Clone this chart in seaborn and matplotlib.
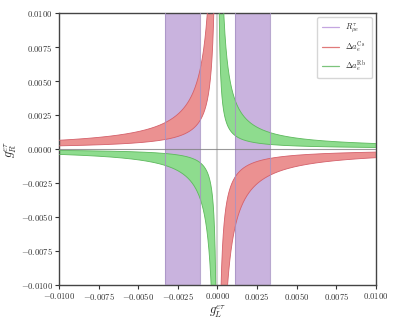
import numpy as np
import pandas as pd
import seaborn as sns
import matplotlib
matplotlib.use("Agg")
import matplotlib.pyplot as plt
from matplotlib.lines import Line2D
from matplotlib.ticker import FuncFormatter

# band limits
# R^tau_mu_e : allowed |g_L| window
r_mue_window = [0.00113, 0.00331]
# Delta a_e bands : g_L * g_R between these values
cs_products = [-6.4e-6, -2.3e-6]
rb_products = [1.1e-6, 4.0e-6]

ticks = [-0.01, -0.0075, -0.005, -0.0025, 0.0, 0.0025, 0.005, 0.0075, 0.01]
labels = [r'$R_{\mu e}^{\tau}$', r'$\Delta a_e^{\rm Cs}$', r'$\Delta a_e^{\rm Rb}$']
fill_colors = ['#c9b3de', '#eb9191', '#8edc8e']
edge_colors = ['#a792c4', '#d4606a', '#5cb85c']

sns.set_theme(style='ticks')
plt.rcParams['font.family'] = ['serif']
plt.rcParams['mathtext.fontset'] = 'cm'

fig, ax = plt.subplots(figsize=(3.99, 3.19), dpi=100)
fig.subplots_adjust(left=0.148, right=0.942, top=0.959, bottom=0.107)

# R^tau_mu_e windows
for sgn in (-1, 1):
    lo, hi = sorted([sgn * r_mue_window[0], sgn * r_mue_window[1]])
    ax.axvspan(lo, hi, facecolor=fill_colors[0], edgecolor='none', zorder=1)
    for x in (lo, hi):
        ax.axvline(x, color=edge_colors[0], lw=0.8, alpha=0.8, zorder=4)

# Delta a_e bands (g_R = c / g_L)
gl_pos = np.geomspace(1e-6, 0.0101, 3000)
for prods, fc, ec in [(cs_products, fill_colors[1], edge_colors[1]),
                      (rb_products, fill_colors[2], edge_colors[2])]:
    for sgn in (-1, 1):
        gl = sgn * gl_pos
        lo = prods[0] / gl
        hi = prods[1] / gl
        ax.fill_between(gl, lo, hi, color=fc, lw=0, zorder=2)
        df = pd.DataFrame({'gL': np.concatenate([gl, gl]),
                           'gR': np.concatenate([lo, hi]),
                           'edge': ['lo'] * len(gl) + ['hi'] * len(gl)})
        sns.lineplot(data=df, x='gL', y='gR', units='edge', estimator=None,
                     sort=False, color=ec, lw=0.6, ax=ax,
                     legend=False, zorder=3)

ax.axhline(0, color='gray', lw=0.8, alpha=0.8, zorder=5)
ax.axvline(0, color='lightgray', lw=1.5, zorder=0)

ax.set_xlim(-0.01, 0.01)
ax.set_ylim(-0.01, 0.01)
ax.set_xticks(ticks)
ax.set_yticks(ticks)
fmt = FuncFormatter(lambda v, p: '$%.4f$' % v)
ax.xaxis.set_major_formatter(fmt)
ax.yaxis.set_major_formatter(fmt)
ax.tick_params(labelsize=6.2, length=3, width=0.8, colors='#333333', pad=1.5)
for s in ax.spines.values():
    s.set_color('#444444')
    s.set_linewidth(1.0)
ax.set_xlabel(r'$g_L^{e\tau}$', fontsize=9, labelpad=1)
ax.set_ylabel(r'$g_R^{e\tau}$', fontsize=9, labelpad=1)

handles = [Line2D([0], [0], color=c, lw=0.9) for c in ['#c4a6e0', '#e07a7a', '#7cc47c']]
ax.legend(handles, labels, loc='upper right', fontsize=6, frameon=True,
          handlelength=2.0, borderpad=0.6, labelspacing=0.5)

fig.savefig('out.png', dpi=100)
